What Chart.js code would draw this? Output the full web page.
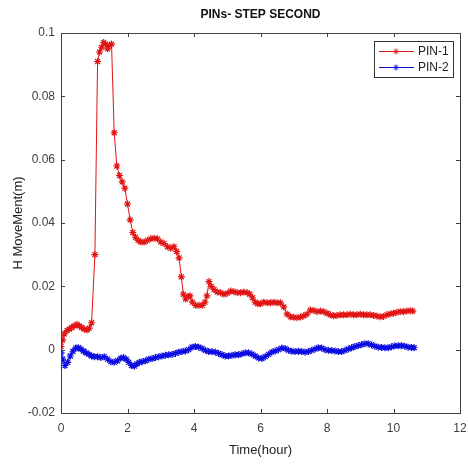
<!DOCTYPE html>
<html>
<head>
<meta charset="utf-8">
<script src="https://cdn.jsdelivr.net/npm/chart.js@4.4.0/dist/chart.umd.min.js"></script>
<style>
  html, body { margin: 0; padding: 0; background: #fff; }
  #wrap { width: 468px; height: 464px; }
</style>
</head>
<body>
<div id="wrap"><canvas id="chart"></canvas></div>
<script>
// values (time in hours, movement in m)
const pin1Time = [0.00, 0.05, 0.10, 0.18, 0.25, 0.32, 0.40, 0.48, 0.55, 0.62, 0.70, 0.78, 0.85, 0.92, 1.02,
    1.10, 1.16, 1.22, 1.28, 1.34, 1.40, 1.46, 1.52, 1.60, 1.68, 1.76, 1.84, 1.92, 2.00, 2.08, 2.16, 2.24,
    2.32, 2.40, 2.50, 2.60, 2.70, 2.80, 2.90, 3.00, 3.10, 3.20, 3.30, 3.40, 3.48, 3.55, 3.62, 3.68, 3.75,
    3.82, 3.88, 3.95, 4.05, 4.15, 4.25, 4.33, 4.39, 4.45, 4.52, 4.60, 4.70, 4.80, 4.90, 5.00, 5.10, 5.20,
    5.30, 5.40, 5.50, 5.60, 5.68, 5.76, 5.84, 5.92, 6.00, 6.10, 6.20, 6.30, 6.40, 6.50, 6.60, 6.70, 6.80,
    6.90, 7.00, 7.10, 7.20, 7.30, 7.40, 7.50, 7.60, 7.70, 7.80, 7.90, 8.00, 8.10, 8.20, 8.30, 8.40, 8.50,
    8.60, 8.70, 8.80, 8.90, 9.00, 9.10, 9.20, 9.30, 9.40, 9.50, 9.60, 9.70, 9.80, 9.90, 10.00, 10.10, 10.20,
    10.30, 10.40, 10.50, 10.58];
const pin1Values = [0.001, 0.003, 0.005, 0.006, 0.0065, 0.007, 0.0075, 0.008, 0.0075, 0.007, 0.0065, 0.0062, 0.0068, 0.0085, 0.030,
    0.091, 0.094, 0.0955, 0.097, 0.0965, 0.095, 0.096, 0.0965, 0.0685, 0.058, 0.055, 0.053, 0.051, 0.046, 0.041, 0.037, 0.0355,
    0.0345, 0.034, 0.034, 0.0345, 0.035, 0.0352, 0.035, 0.034, 0.0335, 0.0325, 0.032, 0.0325, 0.031, 0.029, 0.023, 0.0175, 0.016,
    0.0168, 0.017, 0.015, 0.014, 0.014, 0.014, 0.015, 0.017, 0.0215, 0.020, 0.019, 0.0182, 0.018, 0.0175, 0.0178, 0.0185, 0.0183,
    0.018, 0.018, 0.0182, 0.018, 0.0175, 0.0164, 0.015, 0.0145, 0.0145, 0.015, 0.0148, 0.0148, 0.015, 0.0148, 0.0148, 0.0135, 0.0112,
    0.0104, 0.0102, 0.0101, 0.0103, 0.0107, 0.0112, 0.0125, 0.0124, 0.012, 0.0122, 0.012, 0.0115, 0.011, 0.0107, 0.0108, 0.011, 0.011,
    0.011, 0.0112, 0.011, 0.011, 0.0112, 0.011, 0.011, 0.011, 0.0108, 0.0106, 0.0104, 0.0105, 0.011, 0.0113, 0.0115, 0.0118, 0.012,
    0.012, 0.0122, 0.0123, 0.0122];

const pin2Time = [0.00, 0.05, 0.12, 0.20, 0.28, 0.36, 0.44, 0.52, 0.60, 0.68, 0.76, 0.84, 0.92, 1.00, 1.10, 1.20, 1.30,
    1.40, 1.50, 1.60, 1.70, 1.80, 1.88, 1.96, 2.04, 2.12, 2.20, 2.28, 2.36, 2.44, 2.54, 2.64, 2.74, 2.84, 2.94,
    3.04, 3.14, 3.24, 3.34, 3.44, 3.54, 3.64, 3.74, 3.84, 3.94, 4.04, 4.14, 4.24, 4.34, 4.44, 4.54, 4.64, 4.74,
    4.84, 4.94, 5.04, 5.14, 5.24, 5.34, 5.44, 5.54, 5.64, 5.74, 5.84, 5.94, 6.04, 6.14, 6.24, 6.34, 6.44, 6.54,
    6.64, 6.74, 6.84, 6.94, 7.04, 7.14, 7.24, 7.34, 7.44, 7.54, 7.64, 7.74, 7.84, 7.94, 8.04, 8.14, 8.24, 8.34,
    8.44, 8.54, 8.64, 8.74, 8.84, 8.94, 9.04, 9.14, 9.24, 9.34, 9.44, 9.54, 9.64, 9.74, 9.84, 9.94, 10.04, 10.14,
    10.24, 10.34, 10.44, 10.54, 10.62];
const pin2Values = [-0.001, -0.003, -0.005, -0.004, -0.002, -0.0005, 0.0005, 0.0006, 0.0002, -0.0005, -0.001, -0.0015, -0.002, -0.0022, -0.0022, -0.0025, -0.0022,
    -0.003, -0.0038, -0.004, -0.0035, -0.0027, -0.0025, -0.003, -0.004, -0.005, -0.0052, -0.0045, -0.004, -0.0038, -0.0035, -0.003, -0.0028, -0.0025, -0.0022,
    -0.002, -0.0018, -0.0016, -0.0015, -0.0012, -0.0008, -0.0006, -0.0004, 0.0, 0.0008, 0.001, 0.0008, 0.0004, -0.0002, -0.0006, -0.0006, -0.0008, -0.0012,
    -0.0016, -0.002, -0.002, -0.0018, -0.0016, -0.0016, -0.0013, -0.001, -0.001, -0.0014, -0.002, -0.0026, -0.0028, -0.0022, -0.0015, -0.0008, -0.0004, 0.0,
    0.0005, 0.0004, -0.0002, -0.0005, -0.0006, -0.0005, -0.0006, -0.0008, -0.0006, -0.0002, 0.0002, 0.0006, 0.0005, 0.0, -0.0002, -0.0003, -0.0004, -0.0006,
    -0.0006, -0.0002, 0.0002, 0.0006, 0.001, 0.0013, 0.0016, 0.0019, 0.0019, 0.0015, 0.0011, 0.0008, 0.0007, 0.0006, 0.0006, 0.0009, 0.0012, 0.0012,
    0.0013, 0.0011, 0.0008, 0.0007, 0.0006];

const seriesNames = ['PIN-1', 'PIN-2'];
const xTicks = [0, 2, 4, 6, 8, 10, 12];
const yTicks = [-0.02, 0, 0.02, 0.04, 0.06, 0.08, 0.1];

const RED = 'rgb(225, 20, 20)';
const BLUE = 'rgb(10, 10, 225)';
const AXIS = '#404040';

function toPoints(xs, ys) {
    return xs.map((x, i) => ({ x: x, y: ys[i] }));
}

// box around the plot, inward ticks on all four sides, and the legend box
const frame = {
    id: 'frame',
    afterDraw(chart) {
        const ctx = chart.ctx;
        const a = chart.chartArea;
        const xs = chart.scales.x, ys = chart.scales.y;
        ctx.save();
        ctx.strokeStyle = AXIS;
        ctx.lineWidth = 1;
        ctx.strokeRect(Math.round(a.left) + 0.5, Math.round(a.top) + 0.5,
            Math.round(a.right - a.left), Math.round(a.bottom - a.top));
        ctx.beginPath();
        xTicks.forEach(function(t) {
            const px = Math.round(xs.getPixelForValue(t)) + 0.5;
            ctx.moveTo(px, a.bottom); ctx.lineTo(px, a.bottom - 4);
            ctx.moveTo(px, a.top); ctx.lineTo(px, a.top + 4);
        });
        yTicks.forEach(function(t) {
            const py = Math.round(ys.getPixelForValue(t)) + 0.5;
            ctx.moveTo(a.left, py); ctx.lineTo(a.left + 4, py);
            ctx.moveTo(a.right, py); ctx.lineTo(a.right - 4, py);
        });
        ctx.stroke();

        // legend
        const bx = a.right - 86, by = a.top + 8, bw = 79, bh = 36;
        ctx.fillStyle = '#fff';
        ctx.fillRect(bx, by, bw, bh);
        ctx.strokeStyle = '#333';
        ctx.strokeRect(bx + 0.5, by + 0.5, bw, bh);
        chart.data.datasets.forEach(function(ds, i) {
            const ly = by + 10 + i * 16;
            ctx.strokeStyle = ds.borderColor;
            ctx.beginPath();
            ctx.moveTo(bx + 5, ly + 0.5); ctx.lineTo(bx + 40, ly + 0.5);
            ctx.stroke();
            Chart.helpers.drawPoint(ctx, { pointStyle: 'star', radius: 3, borderWidth: 1 }, bx + 22, ly + 0.5);
            ctx.fillStyle = '#222';
            ctx.font = '12px "Liberation Sans", Arial, sans-serif';
            ctx.textBaseline = 'middle';
            ctx.textAlign = 'left';
            ctx.fillText(ds.label, bx + 44, ly + 1);
        });
        ctx.restore();
    }
};

const ctx = document.getElementById('chart').getContext('2d');
const chart = new Chart(ctx, {
    type: 'scatter',
    data: {
        datasets: [
            {
                label: seriesNames[0],
                data: toPoints(pin1Time, pin1Values),
                borderColor: RED,
                backgroundColor: RED,
                showLine: true,
                borderWidth: 1,
                pointStyle: 'star',
                pointRadius: 3.5,
                pointBorderWidth: 1.2
            },
            {
                label: seriesNames[1],
                data: toPoints(pin2Time, pin2Values),
                borderColor: BLUE,
                backgroundColor: BLUE,
                showLine: true,
                borderWidth: 1,
                pointStyle: 'star',
                pointRadius: 3.5,
                pointBorderWidth: 1.2
            }
        ]
    },
    options: {
        responsive: true,
        maintainAspectRatio: false,
        animation: false,
        layout: { padding: 0 },
        plugins: {
            legend: { display: false },
            tooltip: { enabled: false },
            title: {
                display: true,
                text: 'PINs- STEP SECOND',
                fullSize: false,
                color: '#111',
                font: { family: '"Liberation Sans", Arial, sans-serif', size: 12, weight: 'bold' },
                padding: { top: 7, bottom: 11.6 }
            }
        },
        scales: {
            x: {
                type: 'linear',
                min: 0,
                max: 12,
                afterBuildTicks: function(scale) { scale.ticks = xTicks.map(v => ({ value: v })); },
                afterFit: function(scale) {
                    scale.height = 51;
                    scale.paddingLeft = 0;
                    scale.paddingRight = 8;
                },
                grid: { display: false, drawTicks: false },
                border: { display: false },
                ticks: {
                    color: AXIS,
                    padding: 8,
                    font: { family: '"Liberation Sans", Arial, sans-serif', size: 12 }
                },
                title: {
                    display: true,
                    text: 'Time(hour)',
                    color: '#222',
                    padding: 6,
                    font: { family: '"Liberation Sans", Arial, sans-serif', size: 13 }
                }
            },
            y: {
                type: 'linear',
                min: -0.02,
                max: 0.1,
                afterBuildTicks: function(scale) { scale.ticks = yTicks.map(v => ({ value: v })); },
                afterFit: function(scale) { scale.width = 61; },
                grid: { display: false, drawTicks: false },
                border: { display: false },
                ticks: {
                    color: AXIS,
                    padding: 6,
                    font: { family: '"Liberation Sans", Arial, sans-serif', size: 12 },
                    callback: function(v) { return String(Number(v.toFixed(2))); }
                },
                title: {
                    display: true,
                    text: 'H MoveMent(m)',
                    color: '#222',
                    padding: 11,
                    font: { family: '"Liberation Sans", Arial, sans-serif', size: 13 }
                }
            }
        }
    },
    plugins: [frame]
});
</script>
</body>
</html>
